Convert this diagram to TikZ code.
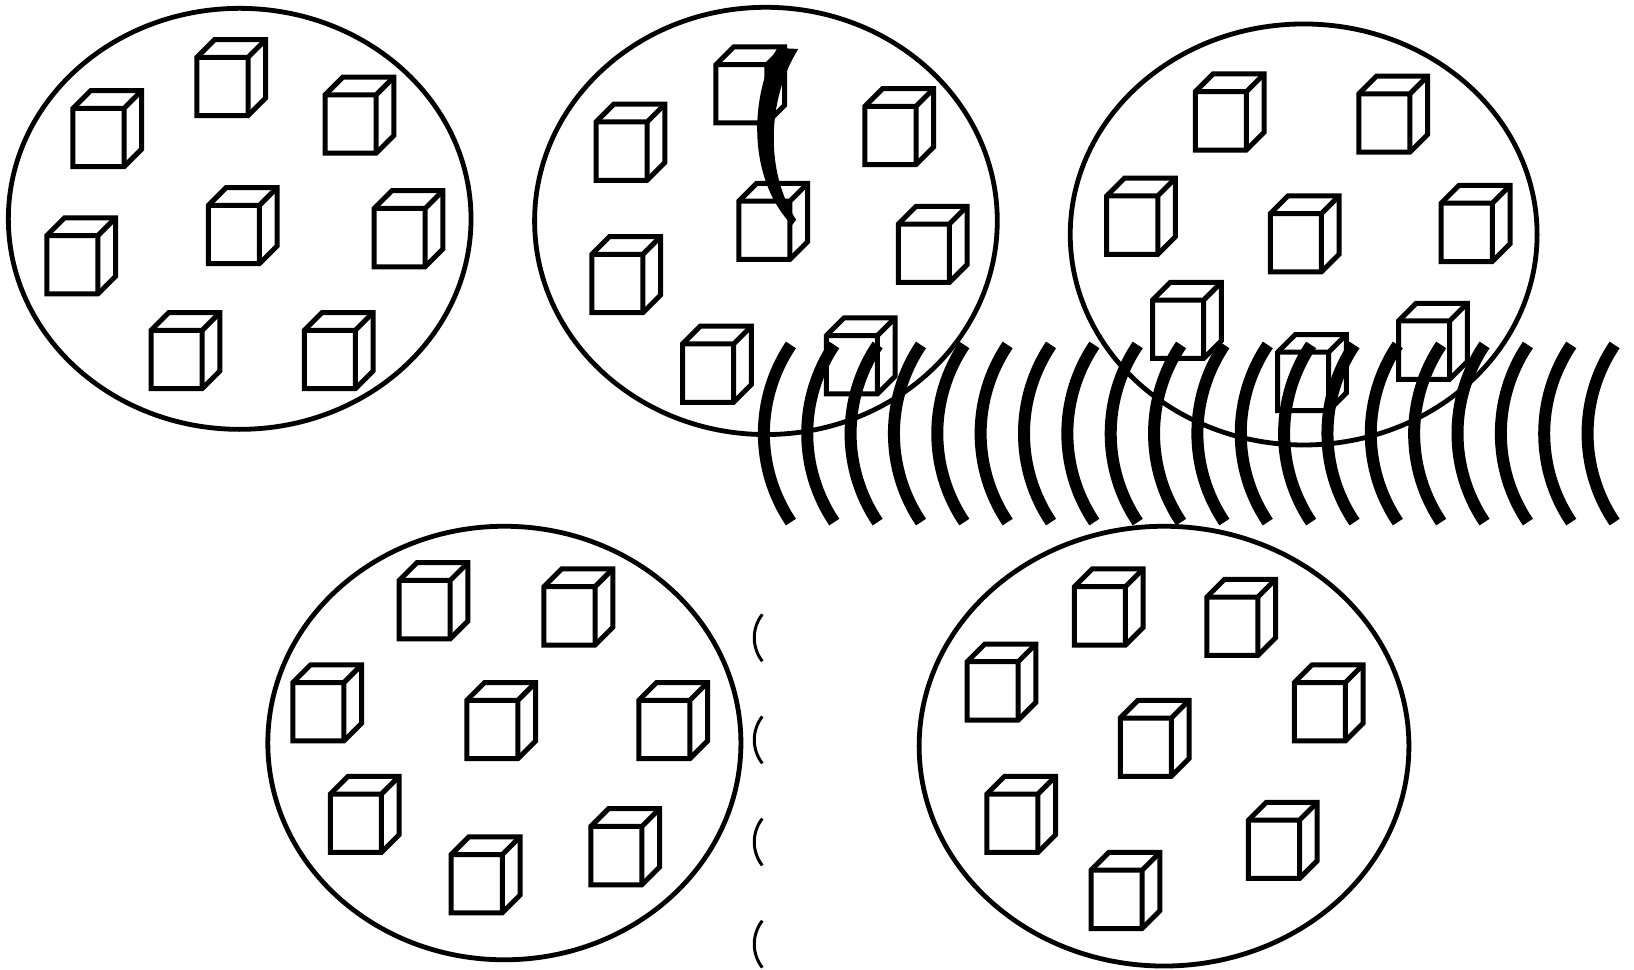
\documentclass[tikz,border=0pt]{standalone}
\begin{document}
\begin{tikzpicture}[x=1.04209pt,y=-1.04209pt,
  blob/.style={line width=4.8pt},
  wave/.style={line width=12pt},
  tick/.style={line width=3pt},
  cube/.pic={
    \filldraw[line width=5pt,fill=white,line join=miter]
      (0,0) -- (17,-17) -- (66,-17) -- (66,39) -- (49,56) -- (0,56) -- cycle;
    \draw[line width=5pt,line join=miter]
      (0,0) -- (49,0) -- (66,-17) (49,0) -- (49,56);
  }]
\useasboundingbox[fill=white] (0,0) rectangle (1568,930);
% ellipses
\draw[blob] (230,210) ellipse [x radius=222, y radius=202];
\draw[blob] (735,212) ellipse [x radius=222, y radius=205];
\draw[blob] (1251,225) ellipse [x radius=224, y radius=202];
\draw[blob] (484,713) ellipse [x radius=227, y radius=208];
\draw[blob] (1117,716) ellipse [x radius=235, y radius=211];
% cubes ellipse 1
\foreach \p in {(70,104),(189,55),(312,91),(45,226),(200,197),(359,200),(145,317),(292,317)}
  \pic at \p {cube};
% cubes ellipse 2
\foreach \p in {(572,117),(687,62),(830,102),(709,193),(568,244),(862,215),(655,330),(793,322)}
  \pic at \p {cube};
% cubes ellipse 3
\foreach \p in {(1147,88),(1304,90),(1062,188),(1219,205),(1383,195),(1106,288),(1226,338),(1342,308)}
  \pic at \p {cube};
% cubes ellipse 4
\foreach \p in {(383,557),(522,563),(281,655),(448,672),(613,672),(317,762),(433,820),(567,793)}
  \pic at \p {cube};
% cubes ellipse 5
\foreach \p in {(1031,563),(1158,573),(928,635),(1242,655),(1075,689),(947,762),(1198,787),(1047,835)}
  \pic at \p {cube};
% curved arrow
\fill (746,46) .. controls (720,90) and (716,170) .. (760,216) -- (764,211)
  .. controls (734,165) and (736,95) .. (766,47) -- cycle;
% wave arcs
\foreach \i in {0,...,19}
  \draw[wave] ({733+41.6*\i+26},331) arc[start angle=214,end angle=146,radius=152];
% small parentheses
\foreach \yy in {612,710,808,906}
  \draw[tick] (731.5,\yy-22.5) arc[start angle=217.8,end angle=142.2,radius=36.7];
\end{tikzpicture}
\end{document}
